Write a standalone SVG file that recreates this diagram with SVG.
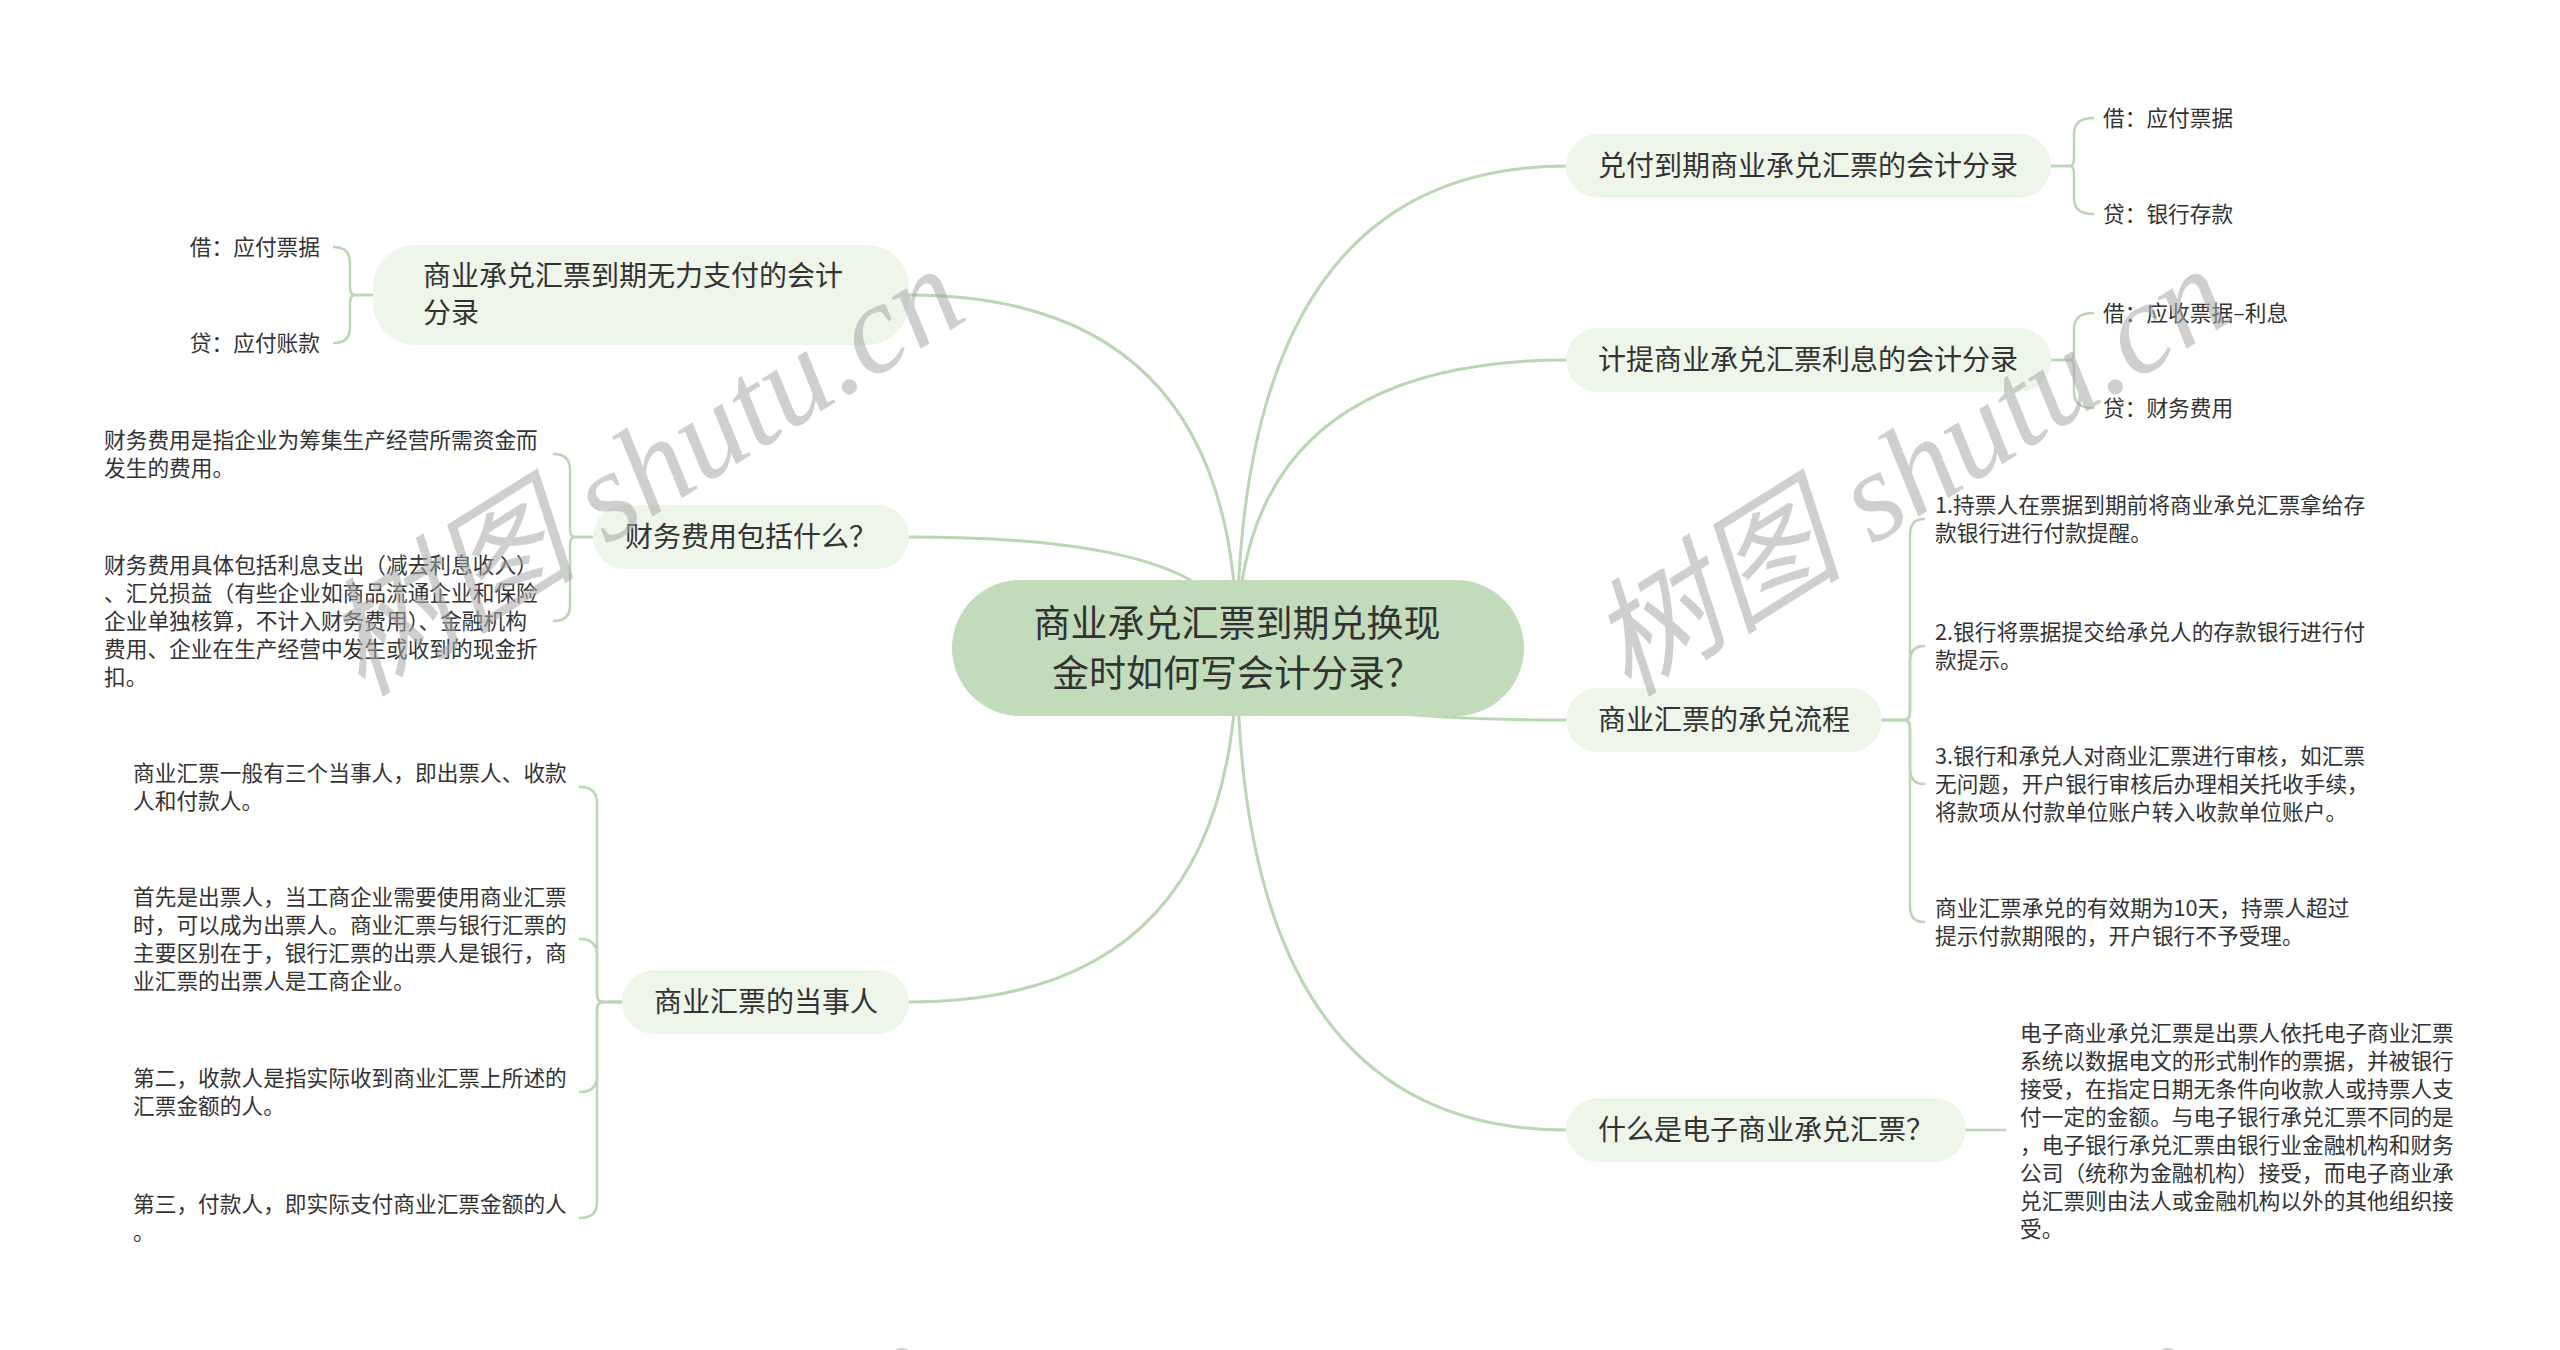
<svg xmlns="http://www.w3.org/2000/svg" width="2560" height="1350" viewBox="0 0 2560 1350">
<style>
text{font-family:"Noto Sans CJK SC","Noto Sans",sans-serif;fill:#333;dominant-baseline:central}
.main{fill:#c2dbba}
.sub{fill:#eef5e9}
.c{fill:none;stroke:#bad6b3;stroke-width:3;stroke-linecap:round}
.b{fill:none;stroke:#bad6b3;stroke-width:2.5;stroke-linecap:round}
.t37{font-size:37px}
.t28{font-size:28px}
.t22{font-size:21.7px}
.wm{font-family:"Liberation Serif","Noto Sans CJK SC",serif;font-style:italic;font-size:128px;fill:#a8a8a8;fill-opacity:0.55;dominant-baseline:auto}
</style>
<rect width="2560" height="1350" fill="#ffffff"/>
<g id="connectors">
<path class="c" d="M1237,648 Q1237,166 1567,166"/>
<path class="c" d="M1237,648 Q1237,360 1567,360"/>
<path class="c" d="M1237,648 Q1237,720 1567,720"/>
<path class="c" d="M1237,648 Q1237,1130 1567,1130"/>
<path class="c" d="M1237,648 Q1237,295 909,295"/>
<path class="c" d="M1237,648 Q1237,537 909,537"/>
<path class="c" d="M1237,648 Q1237,1002 909,1002"/>
<path class="b" d="M2051,166 L2070,166 Q2074,166 2074,158 L2074,134 Q2074,118 2093,118"/>
<path class="b" d="M2051,166 L2070,166 Q2074,166 2074,174 L2074,198 Q2074,214 2093,214"/>
<path class="b" d="M2051,360 L2070,360 Q2074,360 2074,352 L2074,329 Q2074,313 2093,313"/>
<path class="b" d="M2051,360 L2070,360 Q2074,360 2074,368 L2074,392 Q2074,408 2093,408"/>
<path class="b" d="M1882,720 L1904,720 Q1910,720 1910,712 L1910,535 Q1910,519 1924,519"/>
<path class="b" d="M1882,720 L1904,720 Q1910,720 1910,712 L1910,662 Q1910,646 1924,646"/>
<path class="b" d="M1882,720 L1904,720 Q1910,720 1910,728 L1910,768 Q1910,784 1924,784"/>
<path class="b" d="M1882,720 L1904,720 Q1910,720 1910,728 L1910,906 Q1910,922 1924,922"/>
<path class="b" d="M1966,1130 L2005,1130"/>
<path class="b" d="M373,295 L355,295 Q350,295 350,287 L350,263 Q350,247 334,247"/>
<path class="b" d="M373,295 L355,295 Q350,295 350,303 L350,327 Q350,343 334,343"/>
<path class="b" d="M593,537 L575,537 Q570,537 570,529 L570,470 Q570,454 554,454"/>
<path class="b" d="M593,537 L575,537 Q570,537 570,545 L570,605 Q570,621 554,621"/>
<path class="b" d="M622,1002 L603,1002 Q597,1002 597,994 L597,803 Q597,787 580,787"/>
<path class="b" d="M622,1002 L603,1002 Q597,1002 597,994 L597,955 Q597,939 580,939"/>
<path class="b" d="M622,1002 L603,1002 Q597,1002 597,1010 L597,1076 Q597,1092 580,1092"/>
<path class="b" d="M622,1002 L603,1002 Q597,1002 597,1010 L597,1202 Q597,1218 580,1218"/>
</g>
<g id="root">
<rect class="main" x="952" y="580" width="572" height="136" rx="68"/>
<text class="t37" x="1237" y="621" text-anchor="middle">商业承兑汇票到期兑换现</text>
<text class="t37" x="1237" y="671" text-anchor="middle">金时如何写会计分录？</text>
</g>
<g id="n1">
<rect class="sub" x="1566" y="134" width="485" height="64" rx="32"/>
<text class="t28" x="1598" y="164">兑付到期商业承兑汇票的会计分录</text>
</g>
<g id="n1a"><text class="t22" x="2103" y="116">借：应付票据</text></g>
<g id="n1b"><text class="t22" x="2103" y="212">贷：银行存款</text></g>
<g id="n2">
<rect class="sub" x="1566" y="328" width="485" height="64" rx="32"/>
<text class="t28" x="1598" y="358">计提商业承兑汇票利息的会计分录</text>
</g>
<g id="n2a"><text class="t22" x="2103" y="311">借：应收票据–利息</text></g>
<g id="n2b"><text class="t22" x="2103" y="406">贷：财务费用</text></g>
<g id="n3">
<rect class="sub" x="1566" y="688" width="316" height="64" rx="32"/>
<text class="t28" x="1598" y="718">商业汇票的承兑流程</text>
</g>
<g id="n3a">
<text class="t22" x="1935" y="503">1.持票人在票据到期前将商业承兑汇票拿给存</text>
<text class="t22" x="1935" y="531">款银行进行付款提醒。</text>
</g>
<g id="n3b">
<text class="t22" x="1935" y="630">2.银行将票据提交给承兑人的存款银行进行付</text>
<text class="t22" x="1935" y="658">款提示。</text>
</g>
<g id="n3c">
<text class="t22" x="1935" y="754">3.银行和承兑人对商业汇票进行审核，如汇票</text>
<text class="t22" x="1935" y="782">无问题，开户银行审核后办理相关托收手续，</text>
<text class="t22" x="1935" y="810">将款项从付款单位账户转入收款单位账户。</text>
</g>
<g id="n3d">
<text class="t22" x="1935" y="906">商业汇票承兑的有效期为10天，持票人超过</text>
<text class="t22" x="1935" y="934">提示付款期限的，开户银行不予受理。</text>
</g>
<g id="n4">
<rect class="sub" x="1566" y="1098" width="400" height="64" rx="32"/>
<text class="t28" x="1598" y="1128">什么是电子商业承兑汇票？</text>
</g>
<g id="n4a">
<text class="t22" x="2020" y="1031">电子商业承兑汇票是出票人依托电子商业汇票</text>
<text class="t22" x="2020" y="1059">系统以数据电文的形式制作的票据，并被银行</text>
<text class="t22" x="2020" y="1087">接受，在指定日期无条件向收款人或持票人支</text>
<text class="t22" x="2020" y="1115">付一定的金额。与电子银行承兑汇票不同的是</text>
<text class="t22" x="2020" y="1143">，电子银行承兑汇票由银行业金融机构和财务</text>
<text class="t22" x="2020" y="1171">公司（统称为金融机构）接受，而电子商业承</text>
<text class="t22" x="2020" y="1199">兑汇票则由法人或金融机构以外的其他组织接</text>
<text class="t22" x="2020" y="1227">受。</text>
</g>
<g id="n5">
<rect class="sub" x="373" y="245" width="536" height="100" rx="42"/>
<text class="t28" x="423" y="274">商业承兑汇票到期无力支付的会计</text>
<text class="t28" x="423" y="311">分录</text>
</g>
<g id="n5a"><text class="t22" x="320" y="245" text-anchor="end">借：应付票据</text></g>
<g id="n5b"><text class="t22" x="320" y="341" text-anchor="end">贷：应付账款</text></g>
<g id="n6">
<rect class="sub" x="593" y="505" width="316" height="64" rx="32"/>
<text class="t28" x="625" y="535">财务费用包括什么？</text>
</g>
<g id="n6a">
<text class="t22" x="104" y="438">财务费用是指企业为筹集生产经营所需资金而</text>
<text class="t22" x="104" y="466">发生的费用。</text>
</g>
<g id="n6b">
<text class="t22" x="104" y="563">财务费用具体包括利息支出（减去利息收入）</text>
<text class="t22" x="104" y="591">、汇兑损益（有些企业如商品流通企业和保险</text>
<text class="t22" x="104" y="619">企业单独核算，不计入财务费用）、金融机构</text>
<text class="t22" x="104" y="647">费用、企业在生产经营中发生或收到的现金折</text>
<text class="t22" x="104" y="675">扣。</text>
</g>
<g id="n7">
<rect class="sub" x="622" y="970" width="287" height="64" rx="32"/>
<text class="t28" x="654" y="1000">商业汇票的当事人</text>
</g>
<g id="n7a">
<text class="t22" x="133" y="771">商业汇票一般有三个当事人，即出票人、收款</text>
<text class="t22" x="133" y="799">人和付款人。</text>
</g>
<g id="n7b">
<text class="t22" x="133" y="895">首先是出票人，当工商企业需要使用商业汇票</text>
<text class="t22" x="133" y="923">时，可以成为出票人。商业汇票与银行汇票的</text>
<text class="t22" x="133" y="951">主要区别在于，银行汇票的出票人是银行，商</text>
<text class="t22" x="133" y="979">业汇票的出票人是工商企业。</text>
</g>
<g id="n7c">
<text class="t22" x="133" y="1076">第二，收款人是指实际收到商业汇票上所述的</text>
<text class="t22" x="133" y="1104">汇票金额的人。</text>
</g>
<g id="n7d">
<text class="t22" x="133" y="1202">第三，付款人，即实际支付商业汇票金额的人</text>
<text class="t22" x="133" y="1230">。</text>
</g>
<g id="watermark">
<text class="wm" transform="translate(362,698) rotate(-32)">树图 shutu.cn</text>
<text class="wm" transform="translate(1628,698) rotate(-32)">树图 shutu.cn</text>
<text class="wm" transform="translate(334,1772) rotate(-32)">树图 shutu.cn</text>
<text class="wm" transform="translate(1600,1772) rotate(-32)">树图 shutu.cn</text>
</g>
</svg>
